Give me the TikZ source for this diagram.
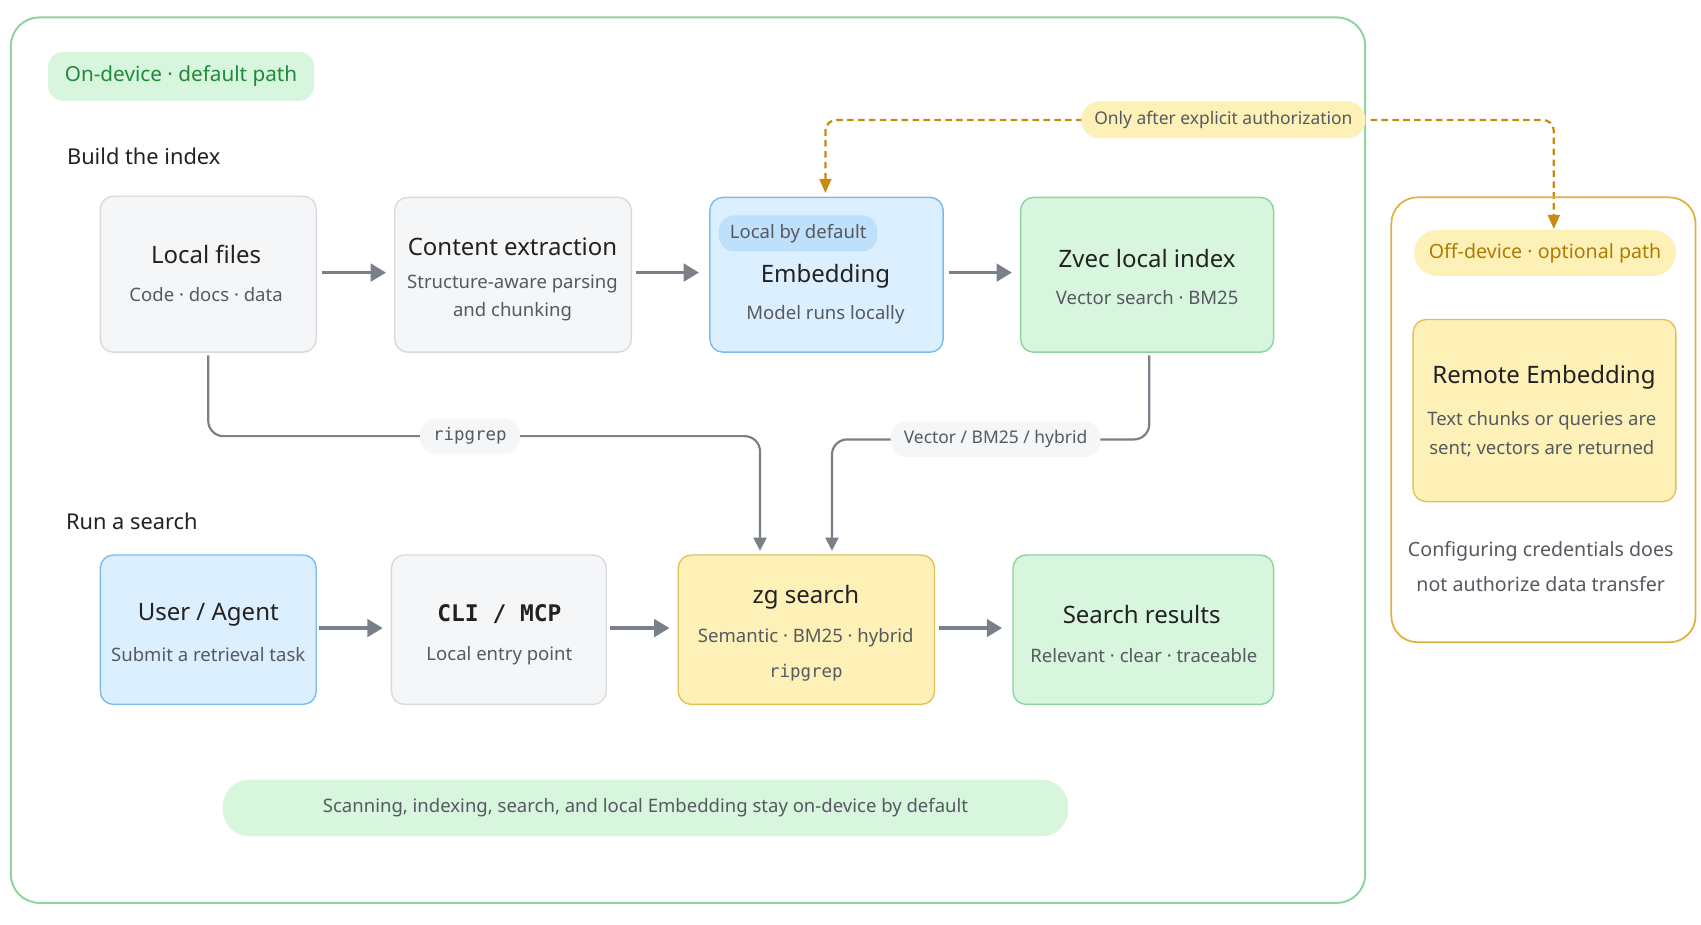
\documentclass[tikz,border=0pt]{standalone}
\usepackage{fontspec}
\setmainfont{Noto Sans}
\setmonofont{DejaVu Sans Mono}
\usetikzlibrary{arrows.meta}
\definecolor{gbord}{HTML}{8FD3A0}
\definecolor{gfill}{HTML}{D8F5DD}
\definecolor{gtext}{HTML}{1F8A3A}
\definecolor{bfill}{HTML}{DCEFFF}
\definecolor{bbord}{HTML}{7BBCEC}
\definecolor{bpill}{HTML}{BFE0FA}
\definecolor{yfill}{HTML}{FDF1B8}
\definecolor{ybord}{HTML}{E3C25A}
\definecolor{obord}{HTML}{E0B040}
\definecolor{otext}{HTML}{B07A00}
\definecolor{dashcol}{HTML}{C88A10}
\definecolor{grfill}{HTML}{F5F6F7}
\definecolor{grbord}{HTML}{D8DADD}
\definecolor{arr}{HTML}{7A8088}
\definecolor{ttl}{HTML}{222222}
\definecolor{sub}{HTML}{555A60}
\begin{document}
\begin{tikzpicture}[x=1pt,y=-1pt,
  boxs/.style={draw,line width=1.3pt,rounded corners=12pt},
  gray box/.style={boxs,fill=grfill,draw=grbord},
  blue box/.style={boxs,fill=bfill,draw=bbord},
  green box/.style={boxs,fill=gfill,draw=gbord},
  yellow box/.style={boxs,fill=yfill,draw=ybord},
  ttlt/.style={font=\fontsize{22}{26}\selectfont\bfseries,text=ttl},
  subt/.style={font=\fontsize{17}{26}\selectfont,text=sub,align=center},
  flow/.style={draw=arr,line width=3pt,-{Triangle[length=14pt,width=16pt]}},
  link/.style={draw=arr,line width=2pt,rounded corners=14pt,-{Triangle[length=12pt,width=12pt]}},
  pill/.style={rounded corners=14pt,inner xsep=12pt,inner ysep=7pt},
  hdr/.style={font=\fontsize{20}{24}\selectfont,text=ttl,anchor=west}]
\useasboundingbox (0,0) rectangle (1560,848);
\fill[white] (0,0) rectangle (1560,848);
% outer
\draw[gbord,line width=1.8pt,rounded corners=26pt] (10,16) rectangle (1252,828);
\node[pill,fill=gfill,text=gtext,font=\fontsize{19}{22}\selectfont\bfseries,minimum height=45pt,minimum width=244pt] (ondev) at (166,70) {On-device · default path};
\node[hdr] (build) at (58,143) {Build the index};
\node[hdr] (run) at (57,478) {Run a search};
% top row
\draw[gray box] (92,180) rectangle (290,323); \coordinate (lf) at (191,251);
\node[ttlt] (lft) at (189,233) {Local files};
\node[subt] (lfs) at (189,270) {Code · docs · data};
\draw[gray box] (362,181) rectangle (579,323);
\node[ttlt] (cet) at (470,226) {Content extraction};
\node[subt] (ces) at (470,273) {Structure-aware parsing\\and chunking};
\draw[blue box] (651,181) rectangle (865,323);
\node[pill,fill=bpill,font=\fontsize{17}{20}\selectfont,text=sub,minimum height=33pt,inner xsep=10pt] (lbd) at (732,214) {Local by default};
\node[ttlt] (emt) at (757,253) {Embedding};
\node[subt] (ems) at (757,289) {Model runs locally};
\draw[green box] (936,181) rectangle (1168,323);
\node[ttlt] (zvt) at (1052,237) {Zvec local index};
\node[subt] (zvs) at (1052,273) {Vector search · BM25};
\coordinate (a1) at (295,250); \coordinate (b1) at (354,250);
\coordinate (a2) at (583,250); \coordinate (b2) at (641,250);
\coordinate (a3) at (870,250); \coordinate (b3) at (928,250);
\draw[flow] (a1)--(b1); \draw[flow] (a2)--(b2); \draw[flow] (a3)--(b3);
% bottom row
\draw[blue box] (92,509) rectangle (290,646);
\node[ttlt] (uat) at (191,564) {User / Agent};
\node[subt] (uas) at (191,600) {Submit a retrieval task};
\draw[gray box] (359,509) rectangle (556,646);
\node[ttlt,font=\fontsize{21}{26}\selectfont\ttfamily\bfseries] (cmt) at (458,563) {CLI / MCP};
\node[subt] (cms) at (458,601) {Local entry point};
\draw[yellow box] (622,509) rectangle (857,646);
\node[ttlt] (zgt) at (739,548) {zg search};
\node[subt] (zgs) at (739,585) {Semantic · BM25 · hybrid};
\node[subt,font=\fontsize{16}{20}\selectfont\ttfamily] (zgr) at (739,617) {ripgrep};
\draw[green box] (929,509) rectangle (1168,646);
\node[ttlt] (srt) at (1047,564) {Search results};
\node[subt] (srs) at (1049,601) {Relevant · clear · traceable};
\coordinate (c1) at (293,576); \coordinate (d1) at (351,576);
\coordinate (c2) at (559,576); \coordinate (d2) at (614,576);
\coordinate (c3) at (861,576); \coordinate (d3) at (919,576);
\draw[flow] (c1)--(d1); \draw[flow] (c2)--(d2); \draw[flow] (c3)--(d3);
% links
\coordinate (rg0) at (191,326); \coordinate (rg1) at (697,505);
\draw[link] (rg0) |- (431,400) -| (rg1);
\node[pill,fill=grfill,font=\fontsize{16}{20}\selectfont\ttfamily,text=sub,inner ysep=8pt] (rgl) at (431,400) {ripgrep};
\coordinate (vb0) at (1054,326); \coordinate (vb1) at (763,505);
\draw[link] (vb0) |- (913,403) -| (vb1);
\node[pill,fill=grfill,font=\fontsize{16}{20}\selectfont,text=sub,inner ysep=8pt] (vbl) at (913,403) {Vector / BM25 / hybrid};
% dashed authorization
\coordinate (e0) at (757,177); \coordinate (e1) at (1425,210);
\draw[dashcol,line width=2pt,dash pattern=on 6pt off 4pt,rounded corners=10pt,{Triangle[length=13pt,width=11pt]}-{Triangle[length=13pt,width=11pt]}] (e0) |- (1122,110) -| (e1);
\node[pill,fill=yfill,font=\fontsize{16}{20}\selectfont,text=sub,minimum height=34pt,rounded corners=17pt] (auth) at (1122,110) {Only after explicit authorization};
% right box
\draw[obord,line width=1.6pt,rounded corners=24pt] (1276,181) rectangle (1555,589);
\node[pill,fill=yfill,text=otext,font=\fontsize{18}{22}\selectfont\bfseries,minimum width=240pt,minimum height=42pt,rounded corners=21pt] (off) at (1417,232) {Off-device · optional path};
\draw[yellow box] (1296,293) rectangle (1537,460);
\node[ttlt] (ret) at (1416,346) {Remote Embedding};
\node[subt] (res) at (1414,398) {Text chunks or queries are\\sent; vectors are returned};
\node[subt,font=\fontsize{18}{32}\selectfont] (cfg) at (1413,520) {Configuring credentials does\\not authorize data transfer};
% bottom pill
\node[pill,fill=gfill,text=sub,font=\fontsize{17}{20}\selectfont,minimum width=775pt,minimum height=52pt,rounded corners=24pt] (foot) at (592,741) {Scanning, indexing, search, and local Embedding stay on-device by default};
\end{tikzpicture}
\end{document}
